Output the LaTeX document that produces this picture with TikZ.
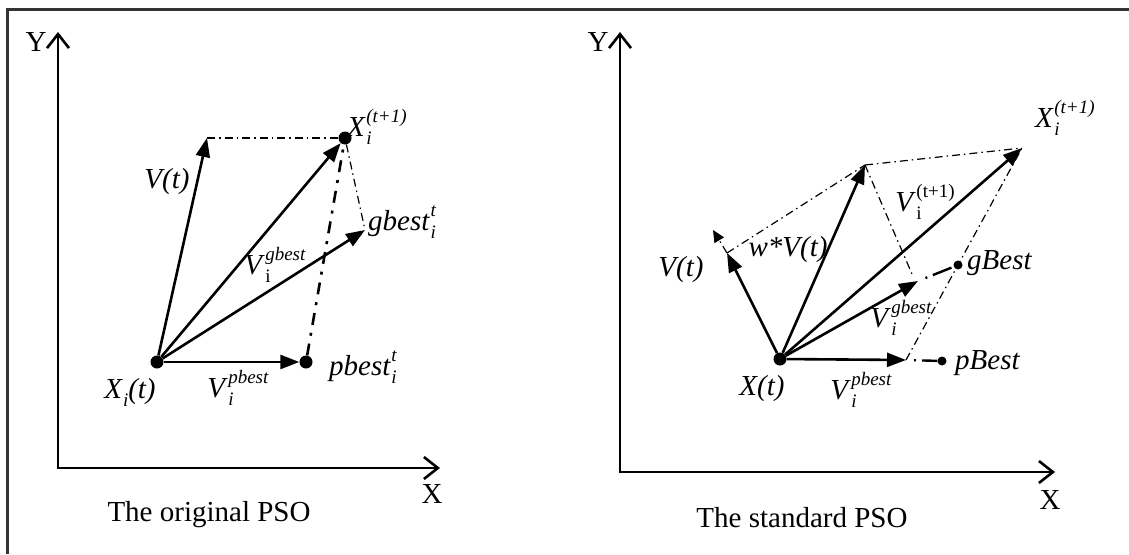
\documentclass[tikz,border=0pt]{standalone}
\usepackage{fontspec}
\setmainfont{Liberation Serif}
\usetikzlibrary{arrows.meta}
\newcommand{\SupSub}[3]{#1\kern0.5pt\rlap{\raisebox{-0.28em}{\fontsize{19}{19}\selectfont #3}}\raisebox{0.5em}{\fontsize{19}{19}\selectfont #2}}
\begin{document}
\begin{tikzpicture}[x=1pt,y=-1pt,
  font=\fontsize{29}{34}\selectfont,
  axis/.style={line width=2.6pt,{Straight Barb[length=14pt,width=22pt]}-{Straight Barb[length=14pt,width=22pt]}},
  vec/.style={line width=2.6pt,-{Triangle[length=19pt,width=14pt]}},
  dd/.style={line width=1.2pt,dash pattern=on 8pt off 4pt on 1.5pt off 4pt},
  ddk/.style={line width=2.6pt,dash pattern=on 12pt off 8pt on 3pt off 8pt},
  ddm/.style={line width=2.4pt,dash pattern=on 0pt off 8pt on 2pt off 6pt on 20pt off 0pt},
  dot/.style={circle,fill,inner sep=0pt,minimum size=13pt},
  sdot/.style={circle,fill,inner sep=0pt,minimum size=9pt},
  lab/.style={inner sep=0pt}]
\useasboundingbox (0,0) rectangle (1129,554);
\draw[line width=3pt,black!80] (7,554) -- (7,9) -- (1129,9);
% ---------- left panel ----------
\coordinate (LYt) at (58,32);
\coordinate (LO) at (58,468);
\coordinate (LXt) at (440,468);
\draw[axis] (LYt) -- (LO) -- (LXt);
\node[lab] (LYl) at (36,42) {Y};
\node[lab] (LXl) at (432,494) {X};
\node[lab] (Lt) at (209,515) {The original PSO};
\node[dot] (Xi) at (157,362) {};
\node[dot] (pb) at (306,362) {};
\node[dot] (X1) at (345,138) {};
\coordinate (Vt) at (207,138);
\coordinate (gb) at (365,230);
\draw[vec] (Xi) -- (Vt);
\draw[vec] (Xi) -- (X1);
\draw[vec] (Xi) -- (gb);
\draw[vec] (Xi) -- (pb);
\draw[dd] (Vt) -- (X1);
\draw[dd] (X1) -- (gb);
\draw[ddk] (pb) -- (X1);
\node[lab] (LVtl) at (167,182) {\textit{V(t)}};
\node[lab,anchor=west] (LX1l) at (347,127) {\SupSub{\textit{X}}{\textit{(t+1)}}{\textit{i}}};
\node[lab,anchor=west] (Lgbl) at (368,222) {\SupSub{\textit{gbest}}{\textit{t}}{\textit{i}}};
\node[lab] (LVgl) at (275,265) {\SupSub{\textit{V}}{\textit{gbest}}{i}};
\node[lab,anchor=west] (Lpbl) at (329,367) {\SupSub{\textit{pbest}}{\textit{t}}{\textit{i}}};
\node[lab] (LXil) at (130,392) {\textit{X}\raisebox{-0.28em}{\fontsize{19}{19}\selectfont\textit{i}}\textit{(t)}};
\node[lab] (LVpl) at (238,388) {\SupSub{\textit{V}}{\textit{pbest}}{\textit{i}}};
% ---------- right panel ----------
\coordinate (RYt) at (620,32);
\coordinate (RO) at (620,472);
\coordinate (RXt) at (1055,472);
\draw[axis] (RYt) -- (RO) -- (RXt);
\node[lab] (RYl) at (598,42) {Y};
\node[lab] (RXl) at (1050,500) {X};
\node[lab] (Rt) at (802,518) {The standard PSO};
\node[dot] (Xt) at (780,359) {};
\coordinate (RVt) at (727,253);
\coordinate (RVe) at (713,230);
\coordinate (A) at (865,165);
\coordinate (B) at (1022,148);
\coordinate (Gt) at (918,281);
\coordinate (Pt) at (906,360);
\coordinate (Ae) at (912,274);
\node[sdot] (gB) at (958,265) {};
\node[sdot] (pB) at (942,361) {};
\draw[vec] (Xt) -- (RVt);
\draw[dd,-{Triangle[length=12pt,width=11pt]}] (RVt) -- (RVe);
\draw[vec] (Xt) -- (A);
\draw[vec] (Xt) -- (B);
\draw[vec] (Xt) -- (Gt);
\draw[vec] (Xt) -- (Pt);
\draw[dd] (RVt) -- (A);
\draw[dd] (A) -- (B);
\draw[dd] (A) -- (Ae);
\draw[dd] (Pt) -- (B);
\draw[ddm] (Gt) -- (gB);
\draw[ddm] (Pt) -- (pB);
\node[lab] (RVtl) at (681,270) {\textit{V(t)}};
\node[lab] (wVl) at (788,250) {\textit{w*V(t)}};
\node[lab] (RV1l) at (925,202) {\SupSub{\textit{V}}{(t+1)}{i}};
\node[lab,anchor=west] (RX1l) at (1035,118) {\SupSub{\textit{X}}{\textit{(t+1)}}{\textit{i}}};
\node[lab,anchor=west] (gBl) at (967,263) {\textit{gBest}};
\node[lab,anchor=west] (pBl) at (955,363) {\textit{pBest}};
\node[lab] (RVgl) at (901,318) {\SupSub{\textit{V}}{\textit{gbest}}{\textit{i}}};
\node[lab] (RVpl) at (861,390) {\SupSub{\textit{V}}{\textit{pbest}}{\textit{i}}};
\node[lab] (RXtl) at (762,389) {\textit{X(t)}};
\end{tikzpicture}
\end{document}
